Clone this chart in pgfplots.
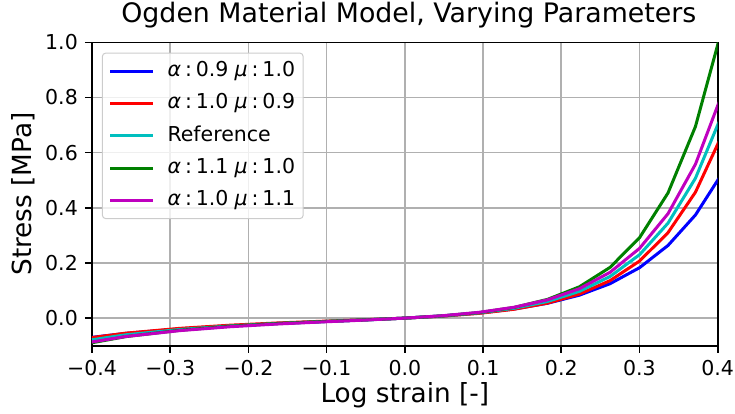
\documentclass[border=0pt]{standalone}
\usepackage{fontspec}
\setmainfont{DejaVu Sans}
\usepackage{pgfplots}
\pgfplotsset{compat=1.18}
\definecolor{mplb}{rgb}{0,0,1}
\definecolor{mplr}{rgb}{1,0,0}
\definecolor{mplc}{rgb}{0,0.75,0.75}
\definecolor{mplg}{rgb}{0,0.5,0}
\definecolor{mplm}{rgb}{0.75,0,0.75}
\newcommand{\am}[2]{\textit{α}\hspace{4pt}:\hspace{4pt}#1\hspace{6pt}\textit{μ}\hspace{4pt}:\hspace{4pt}#2}
\begin{document}
\begin{tikzpicture}
\useasboundingbox (-92pt,-67.3pt) rectangle (643pt,345.7pt);
\begin{axis}[at={(0,0)},anchor=south west,scale only axis,width=625.7pt,height=303.4pt,
  xmin=-0.4,xmax=0.4,ymin=-0.1,ymax=1.0,
  xtick={-0.4,-0.3,-0.2,-0.1,0,0.1,0.2,0.3,0.4},
  xticklabels={−0.4,−0.3,−0.2,−0.1,0.0,0.1,0.2,0.3,0.4},
  ytick={0,0.2,0.4,0.6,0.8,1.0},yticklabels={0.0,0.2,0.4,0.6,0.8,1.0},
  tick align=outside,tick pos=left,major tick length=7pt,
  every tick/.style={black,line width=1.6pt},
  grid=major,grid style={color=black!31,line width=1.6pt},
  axis line style={line width=1.6pt},
  ticklabel style={font=\fontsize{20.5}{24}\selectfont},
  xticklabel style={anchor=north,inner sep=0pt,yshift=-7pt},
  yticklabel style={anchor=east,inner sep=0pt,xshift=-7pt},
  title={Ogden Material Model, Varying Parameters},
  title style={font=\fontsize{26.8}{30}\selectfont,at={(0.5,1)},anchor=base,yshift=14pt,xshift=4pt},
  xlabel={Log strain [-]},ylabel={Stress [MPa]},
  label style={font=\fontsize{26.3}{30}\selectfont},
  xlabel style={at={(0.5,0)},anchor=base,yshift=-57pt},
  ylabel style={at={(0,0.5)},anchor=base,yshift=60pt},
  legend style={at={(0,1)},anchor=north west,xshift=10pt,yshift=-10.4pt,
    draw=black!20,rounded corners=3pt,fill=white,fill opacity=0.8,text opacity=1,
    line width=1pt,inner xsep=6pt,inner ysep=6.5pt,row sep=8.7pt,
    font=\fontsize{20.5}{24}\selectfont,
    nodes={inner sep=2pt,text height=15pt,text depth=4.5pt},
    /tikz/every odd column/.append style={column sep=11pt}},
  legend cell align=left,
  legend image code/.code={\draw[#1] (0pt,0pt) -- (43pt,0pt);},
  every axis plot/.append style={line width=3pt,line join=round},
]
\addplot[mplb] coordinates {(-0.43078,-0.0799) (-0.35667,-0.0552) (-0.28768,-0.0388) (-0.22314,-0.0276) (-0.16252,-0.0193) (-0.10536,-0.01264) (-0.05129,-0.00652) (0,0) (0.04879,0.00793) (0.09531,0.01845) (0.13976,0.0331) (0.18232,0.0538) (0.22314,0.0832) (0.26236,0.1248) (0.30010,0.1829) (0.33647,0.2635) (0.37156,0.3740) (0.40547,0.5240)};
\addlegendentry{\am{0.9}{1.0}}
\addplot[mplr] coordinates {(-0.43078,-0.0821) (-0.35667,-0.0545) (-0.28768,-0.0371) (-0.22314,-0.0256) (-0.16252,-0.0175) (-0.10536,-0.0113) (-0.05129,-0.00581) (0,0) (0.04879,0.00726) (0.09531,0.0174) (0.13976,0.0322) (0.18232,0.0543) (0.22314,0.0872) (0.26236,0.1359) (0.30010,0.2070) (0.33647,0.3099) (0.37156,0.4566) (0.40547,0.6638)};
\addlegendentry{\am{1.0}{0.9}}
\addplot[mplc] coordinates {(-0.43078,-0.0912) (-0.35667,-0.0605) (-0.28768,-0.0412) (-0.22314,-0.0284) (-0.16252,-0.0194) (-0.10536,-0.01256) (-0.05129,-0.00646) (0,0) (0.04879,0.00807) (0.09531,0.0193) (0.13976,0.0358) (0.18232,0.0603) (0.22314,0.0969) (0.26236,0.1510) (0.30010,0.2300) (0.33647,0.3443) (0.37156,0.5073) (0.40547,0.7375)};
\addlegendentry{Reference}
\addplot[mplg] coordinates {(-0.43078,-0.1051) (-0.35667,-0.0670) (-0.28768,-0.0440) (-0.22314,-0.0294) (-0.16252,-0.0197) (-0.10536,-0.01251) (-0.05129,-0.00641) (0,0) (0.04879,0.00823) (0.09531,0.0202) (0.13976,0.0388) (0.18232,0.0679) (0.22314,0.1135) (0.26236,0.1840) (0.30010,0.2918) (0.33647,0.4539) (0.37156,0.6948) (0.40547,1.0480)};
\addlegendentry{\am{1.1}{1.0}}
\addplot[mplm] coordinates {(-0.43078,-0.1003) (-0.35667,-0.0666) (-0.28768,-0.0453) (-0.22314,-0.0312) (-0.16252,-0.0213) (-0.10536,-0.0138) (-0.05129,-0.00711) (0,0) (0.04879,0.00888) (0.09531,0.0212) (0.13976,0.0394) (0.18232,0.0663) (0.22314,0.1066) (0.26236,0.1661) (0.30010,0.2530) (0.33647,0.3787) (0.37156,0.5580) (0.40547,0.8113)};
\addlegendentry{\am{1.0}{1.1}}
\end{axis}
\end{tikzpicture}
\end{document}
